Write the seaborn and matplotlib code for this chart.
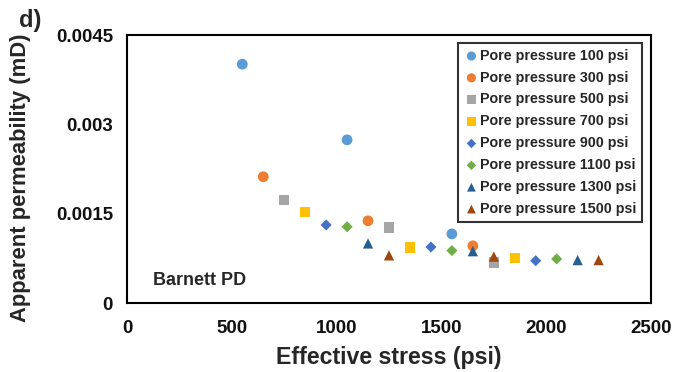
import matplotlib
matplotlib.use("Agg")
import matplotlib.pyplot as plt
import seaborn as sns
import pandas as pd

sns.set_style("white")
plt.rcParams['font.family'] = ['Liberation Sans', 'DejaVu Sans']
plt.rcParams['font.weight'] = 'bold'

labels = ["Pore pressure 100 psi", "Pore pressure 300 psi", "Pore pressure 500 psi",
          "Pore pressure 700 psi", "Pore pressure 900 psi", "Pore pressure 1100 psi",
          "Pore pressure 1300 psi", "Pore pressure 1500 psi"]
stress_100 = [550, 1050, 1550];   perm_100 = [0.00401, 0.00274, 0.00116]
stress_300 = [650, 1150, 1650];   perm_300 = [0.00212, 0.00138, 0.00096]
stress_500 = [750, 1250, 1750];   perm_500 = [0.00173, 0.00127, 0.00068]
stress_700 = [850, 1350, 1850];   perm_700 = [0.00153, 0.00093, 0.00075]
stress_900 = [950, 1450, 1950];   perm_900 = [0.00131, 0.00094, 0.00071]
stress_1100 = [1050, 1550, 2050]; perm_1100 = [0.00128, 0.00088, 0.00074]
stress_1300 = [1150, 1650, 2150]; perm_1300 = [0.00100, 0.00087, 0.00072]
stress_1500 = [1250, 1750, 2250]; perm_1500 = [0.00080, 0.00078, 0.00072]

stresses = [stress_100, stress_300, stress_500, stress_700, stress_900, stress_1100, stress_1300, stress_1500]
perms = [perm_100, perm_300, perm_500, perm_700, perm_900, perm_1100, perm_1300, perm_1500]
colors = ["#5B9BD5", "#ED7D31", "#A5A5A5", "#FFC000", "#4472C4", "#70AD47", "#255E91", "#9E480E"]
markers = ["o", "o", "s", "s", "D", "D", "^", "^"]
sizes = [60, 60, 55, 55, 32, 32, 55, 55]

xticks = [0, 500, 1000, 1500, 2000, 2500]
yticks = [0, 0.0015, 0.003, 0.0045]
yticklabels = ["0", "0.0015", "0.003", "0.0045"]

fig = plt.figure(figsize=(6.85, 3.72), dpi=100)
ax = fig.add_axes([127/685, 1-303/372, 524/685, 268/372])

for lab, xs, ys, c, m, s in zip(labels, stresses, perms, colors, markers, sizes):
    df = pd.DataFrame({"x": xs, "y": ys})
    sns.scatterplot(data=df, x="x", y="y", ax=ax, color=c, marker=m, s=s,
                    edgecolor="none", linewidth=0, label=lab)

ax.set_xlim(0, 2500)
ax.set_ylim(0, 0.0045)
ax.set_xticks(xticks)
ax.set_xticklabels([str(t) for t in xticks], fontsize=13.5, fontweight='bold', color='#111111')
ax.set_yticks(yticks)
ax.set_yticklabels(yticklabels, fontsize=13.5, fontweight='bold', color='#111111')
ax.tick_params(direction='in', length=5, width=1, color='#333333')
ax.tick_params(axis='x', pad=12)
ax.tick_params(axis='y', pad=10)
for sp in ax.spines.values():
    sp.set_color('black')
    sp.set_linewidth(1.5)
ax.set_xlabel("Effective stress (psi)", fontsize=16.7, fontweight='bold', labelpad=7)
ax.set_ylabel("Apparent permeability (mD)", fontsize=15.8, fontweight='bold')
ax.yaxis.set_label_coords(-0.204, 0.466)
ax.yaxis.label.set_verticalalignment('center')

ax.text(124, 0.000386, "Barnett PD", fontsize=13, fontweight='bold', va='center', ha='left')
fig.text(30/685, 1-20/372, "d)", fontsize=17, fontweight='bold', va='center', ha='center')

leg = ax.legend(loc='upper right', bbox_to_anchor=(0.983, 0.970), borderaxespad=0,
                fancybox=False, frameon=True, edgecolor='black', fontsize=10.3,
                handletextpad=0.05, handlelength=1.1, labelspacing=0.55,
                borderpad=0.4, markerscale=0.85)
leg.get_frame().set_linewidth(1.5)
for t in leg.get_texts():
    t.set_fontweight('bold')

fig.savefig("out.png", dpi=100)
